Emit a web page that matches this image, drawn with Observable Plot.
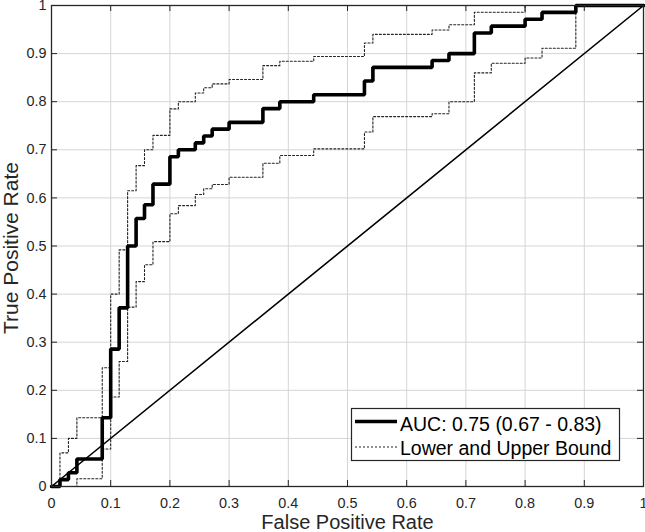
<!DOCTYPE html>
<html>
<head>
<meta charset="utf-8">
<script src="https://cdn.jsdelivr.net/npm/d3@7"></script>
<script src="https://cdn.jsdelivr.net/npm/@observablehq/plot@0.6"></script>
<style>
  html, body { margin: 0; padding: 0; background: #fff; }
  #wrap { position: relative; width: 645px; height: 532px; font-family: "Liberation Sans", Arial, Helvetica, sans-serif; }
  #wrap svg.legend { position: absolute; left: 0; top: 0; pointer-events: none; }
</style>
</head>
<body>
<div id="wrap"></div>
<script>
// ---- Data ----
const rocFpr = [0, 0.0143, 0.0286, 0.0429, 0.0857, 0.1, 0.1143, 0.1286, 0.1429, 0.1571, 0.1714, 0.2, 0.2143, 0.2429, 0.2571, 0.2714, 0.3, 0.3571, 0.3857, 0.4429, 0.5286, 0.5429, 0.6429, 0.6714, 0.7143, 0.7429, 0.8, 0.8286, 0.8857, 1];
const rocTpr = [0, 0.0143, 0.0286, 0.0571, 0.1429, 0.2857, 0.3714, 0.5, 0.5571, 0.5857, 0.6286, 0.6857, 0.7, 0.7143, 0.7286, 0.7429, 0.7571, 0.7857, 0.8, 0.8143, 0.8429, 0.8714, 0.8857, 0.9, 0.9429, 0.9571, 0.9714, 0.9857, 1, 1];

const upperFpr = [0, 0.0143, 0.0286, 0.0429, 0.0857, 0.1, 0.1143, 0.1286, 0.1429, 0.1571, 0.1714, 0.2, 0.2143, 0.2429, 0.2571, 0.2714, 0.3, 0.3571, 0.3857, 0.4429, 0.5286, 0.5429, 0.6429, 0.6714, 0.7143, 0.8, 1];
const upperTpr = [0, 0.07, 0.1, 0.143, 0.247, 0.4, 0.492, 0.615, 0.667, 0.70, 0.73, 0.785, 0.80, 0.818, 0.829, 0.837, 0.846, 0.875, 0.884, 0.894, 0.922, 0.94, 0.949, 0.96, 0.986, 1, 1];

const lowerFpr = [0, 0.0429, 0.0857, 0.1, 0.1143, 0.1286, 0.1429, 0.1571, 0.1714, 0.2, 0.2143, 0.2429, 0.2571, 0.2714, 0.3, 0.3571, 0.3857, 0.4429, 0.5286, 0.5429, 0.6429, 0.6714, 0.7143, 0.7429, 0.8, 0.8286, 0.8857, 1];
const lowerTpr = [0, 0.016, 0.078, 0.186, 0.26, 0.373, 0.426, 0.461, 0.509, 0.567, 0.584, 0.607, 0.619, 0.628, 0.643, 0.672, 0.688, 0.702, 0.737, 0.769, 0.775, 0.80, 0.86, 0.88, 0.891, 0.911, 1, 1];

const chanceFpr = [0, 1];
const chanceTpr = [0, 1];

const tickValues = [0, 0.1, 0.2, 0.3, 0.4, 0.5, 0.6, 0.7, 0.8, 0.9, 1];
const tickLabels = ["0", "0.1", "0.2", "0.3", "0.4", "0.5", "0.6", "0.7", "0.8", "0.9", "1"];

const xLabel = "False Positive Rate";
const yLabel = "True Positive Rate";
const legendLabels = ["AUC: 0.75 (0.67 - 0.83)", "Lower and Upper Bound"];

// ---- Build tables ----
const toRows = (xs, ys) => xs.map((x, i) => ({x, y: ys[i]}));
const roc = toRows(rocFpr, rocTpr);
const upper = toRows(upperFpr, upperTpr);
const lower = toRows(lowerFpr, lowerTpr);
const chance = toRows(chanceFpr, chanceTpr);
const fmt = d => tickLabels[tickValues.findIndex(t => Math.abs(t - d) < 1e-9)];

const W = 645, H = 532, mL = 51, mR = 2, mT = 5, mB = 46;
const plotW = W - mL - mR, plotH = H - mT - mB;
const ink = "#262626";
const font = "Liberation Sans, Arial, Helvetica, sans-serif";

const chart = Plot.plot({
  width: W, height: H,
  marginLeft: mL, marginRight: mR, marginTop: mT, marginBottom: mB,
  x: {domain: [0, 1]},
  y: {domain: [0, 1]},
  style: {fontFamily: font, background: "white", color: ink},
  marks: [
    Plot.gridX(tickValues, {stroke: "#d4d4d4", strokeOpacity: 1, strokeWidth: 1}),
    Plot.gridY(tickValues, {stroke: "#d4d4d4", strokeOpacity: 1, strokeWidth: 1}),
    Plot.line(chance, {x: "x", y: "y", stroke: "black", strokeWidth: 1.6}),
    Plot.line(upper, {x: "x", y: "y", curve: "step-after", stroke: "#222", strokeWidth: 1.1, strokeDasharray: "2,2"}),
    Plot.line(lower, {x: "x", y: "y", curve: "step-after", stroke: "#222", strokeWidth: 1.1, strokeDasharray: "2,2"}),
    Plot.line(roc, {x: "x", y: "y", curve: "step-after", stroke: "black", strokeWidth: 3.6, strokeLinejoin: "miter"}),
    // inward tick marks on all four sides
    Plot.tickX(tickValues, {x: d => d, insetBottom: plotH - 6, stroke: ink, strokeWidth: 1}),
    Plot.tickX(tickValues, {x: d => d, insetTop: plotH - 6, stroke: ink, strokeWidth: 1}),
    Plot.tickY(tickValues, {y: d => d, insetRight: plotW - 6, stroke: ink, strokeWidth: 1}),
    Plot.tickY(tickValues, {y: d => d, insetLeft: plotW - 6, stroke: ink, strokeWidth: 1}),
    Plot.frame({stroke: ink, strokeWidth: 1.3}),
    Plot.axisX(tickValues, {tickSize: 0, tickPadding: 11, tickFormat: fmt, fontSize: 14.4, fill: ink, label: null}),
    Plot.axisY(tickValues, {tickSize: 0, tickPadding: 5, tickFormat: fmt, fontSize: 14.4, fill: ink, label: null}),
    Plot.text([xLabel], {text: d => d, frameAnchor: "bottom", textAnchor: "middle", lineAnchor: "middle", dy: 36, fontSize: 20, fill: ink}),
    Plot.text([yLabel], {text: d => d, frameAnchor: "left", textAnchor: "middle", lineAnchor: "middle", rotate: -90, dx: -40, dy: 2, fontSize: 21, fill: ink})
  ]
});

const wrap = document.getElementById("wrap");
wrap.appendChild(chart);

// ---- Legend (inside the axes, lower right) ----
const lg = d3.select(wrap).append("svg")
  .attr("class", "legend")
  .attr("width", W).attr("height", H);
lg.append("rect")
  .attr("x", 351.5).attr("y", 408.5).attr("width", 268).attr("height", 52)
  .attr("fill", "white").attr("stroke", ink).attr("stroke-width", 1.2);
lg.append("line").attr("x1", 355).attr("x2", 397).attr("y1", 421.5).attr("y2", 421.5)
  .attr("stroke", "black").attr("stroke-width", 3.6);
lg.append("line").attr("x1", 355).attr("x2", 397).attr("y1", 447).attr("y2", 447)
  .attr("stroke", "#222").attr("stroke-width", 1).attr("stroke-dasharray", "2,2");
lg.selectAll("text.lbl").data(legendLabels).join("text")
  .attr("class", "lbl")
  .attr("x", 400)
  .attr("y", (d, i) => i === 0 ? 431 : 455)
  .attr("font-family", font)
  .attr("font-size", 19.5)
  .attr("fill", "black")
  .text(d => d);
</script>
</body>
</html>
